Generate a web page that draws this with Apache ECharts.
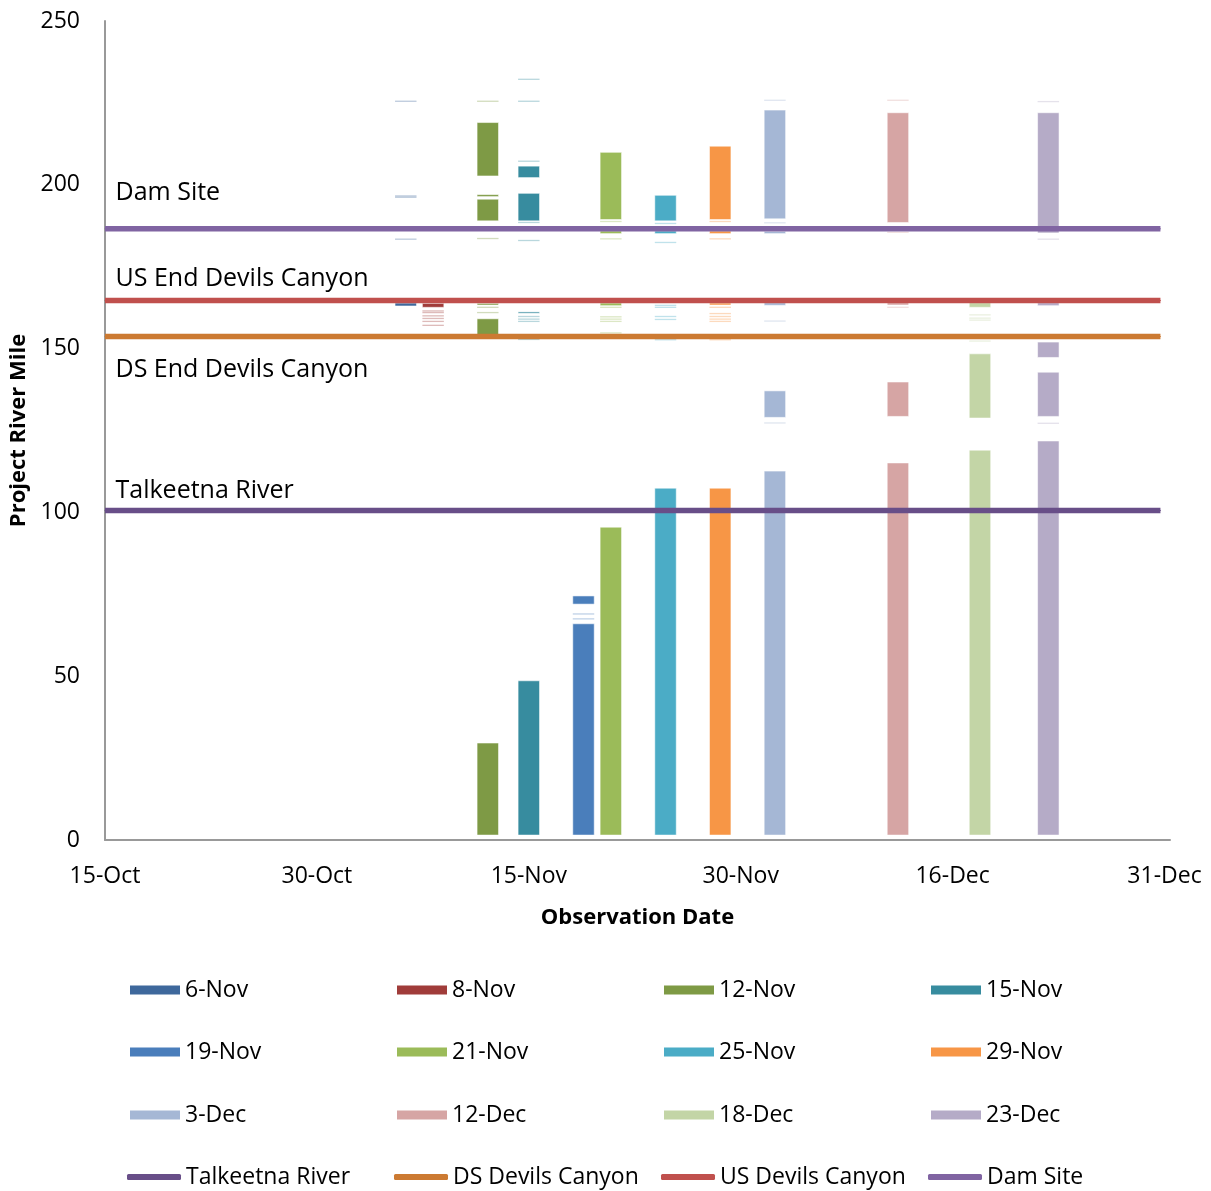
<!DOCTYPE html>
<html>
<head>
<meta charset="utf-8">
<script src="https://cdn.jsdelivr.net/npm/echarts@6/dist/echarts.min.js"></script>
<style>
  html, body { margin: 0; padding: 0; background: #fff; }
  #chart { width: 1211px; height: 1191px; }
</style>
</head>
<body>
<div id="chart"></div>
<script>
// Observation dates (one column of river-mile segments per date)
const obsDates = ['6-Nov', '8-Nov', '12-Nov', '15-Nov', '19-Nov', '21-Nov',
                  '25-Nov', '29-Nov', '3-Dec', '12-Dec', '18-Dec', '23-Dec'];

// Ice-covered reaches per observation, [lower mile, upper mile]
const iceSegments = [
  [[163.0, 163.9]],
  [[162.6, 163.8]],
  [[202.7, 219.0], [196.4, 197.0], [189.0, 195.6], [163.3, 163.8], [153.2, 159.1], [1.5, 29.6]],
  [[202.2, 205.7], [189.0, 197.4], [160.8, 161.2], [1.5, 48.6]],
  [[72.0, 74.5], [1.5, 66.0]],
  [[189.4, 209.9], [185.1, 185.9], [163.1, 163.9], [1.5, 95.5]],
  [[189.0, 196.8], [185.1, 185.9], [1.5, 107.4]],
  [[189.4, 211.8], [185.1, 185.9], [163.3, 163.9], [1.5, 107.4]],
  [[189.6, 222.8], [185.1, 185.8], [163.2, 164.0], [129.0, 137.1], [1.5, 112.6]],
  [[188.5, 222.0], [163.3, 164.0], [129.3, 139.8], [1.5, 115.1]],
  [[162.6, 164.0], [128.8, 148.4], [1.5, 119.0]],
  [[185.3, 222.0], [163.1, 164.0], [147.3, 152.0], [129.3, 142.8], [1.5, 121.8]]
];

// Short border-ice / shelf-ice observations, river mile
const iceTraces = [
  [225.5, 196.6, 196.2, 183.4],
  [161.5, 161.0, 160.0, 159.2, 158.3, 157.1],
  [225.5, 183.6, 162.6, 161.0],
  [232.2, 225.5, 207.2, 188.5, 183.0, 159.8, 159.0, 158.3, 152.8],
  [69.0, 67.5],
  [188.8, 183.5, 162.6, 159.7, 159.0, 158.3, 154.8],
  [188.2, 182.4, 163.2, 162.6, 159.8, 158.9, 152.7],
  [188.8, 183.5, 162.6, 160.7, 159.8, 159.0, 158.3, 152.7],
  [225.8, 188.4, 158.4, 127.3],
  [225.8, 185.5, 162.6],
  [160.3, 159.3, 158.7, 152.3],
  [225.4, 183.4, 127.2]
];

const obsColors = ['#3E689C', '#A03C3A', '#7E9A45', '#378C9F', '#4A7EBB', '#9BBB59',
                   '#4BACC6', '#F79646', '#A5B7D5', '#D6A5A4', '#C3D5A6', '#B5ABC7'];

// Reference river-mile landmarks
const landmarkNames  = ['Talkeetna River', 'DS Devils Canyon', 'US Devils Canyon', 'Dam Site'];
const landmarkLabels = ['Talkeetna River', 'DS End Devils Canyon', 'US End Devils Canyon', 'Dam Site'];
const landmarkMiles  = [100.6, 153.7, 164.7, 186.6];
const landmarkColors = ['#684E88', '#CC7A32', '#C0504D', '#8064A2'];
const landmarkLabelOffset = [-19, 34, -21, -35];

// Axis tick labels
const xTickLabels = ['15-Oct', '30-Oct', '15-Nov', '30-Nov', '16-Dec', '31-Dec'];
const yTicks = [0, 50, 100, 150, 200, 250];

// Day count from 15-Oct
function dayOf(label) {
  const [d, m] = label.split('-');
  const base = { Oct: -15, Nov: 16, Dec: 46 }[m];
  return base + Number(d);
}

const X_STEP = 15.5;
const X_MAX = 77.9;
const BAR_DAYS = 1.57;
const FONT = '"Open Sans", "Noto Sans", sans-serif';

const series = [];
obsDates.forEach((name, i) => {
  const x = dayOf(name);
  const data = [];
  iceSegments[i].forEach(s => data.push([x, s[0], s[1], 0]));
  iceTraces[i].forEach(v => data.push([x, v - 0.2, v + 0.2, 1]));
  series.push({
    name: name,
    type: 'custom',
    z: 2,
    itemStyle: { color: obsColors[i] },
    encode: { x: 0, y: [1, 2] },
    data: data,
    renderItem: function (params, api) {
      const cx = api.value(0), lo = api.value(1), hi = api.value(2), faint = api.value(3);
      const top = api.coord([cx, hi]);
      const bot = api.coord([cx, lo]);
      const w = api.size([BAR_DAYS, 0])[0];
      const h = Math.max(bot[1] - top[1], 1);
      return {
        type: 'rect',
        shape: { x: top[0] - w / 2, y: top[1], width: w, height: h },
        style: faint
          ? { fill: api.visual('color'), opacity: 0.35 }
          : { fill: api.visual('color'), stroke: 'rgba(255,255,255,0.55)', lineWidth: 1 }
      };
    }
  });
});

landmarkNames.forEach((name, i) => {
  series.push({
    name: name,
    type: 'line',
    z: 3,
    symbol: 'circle',
    symbolSize: 1,
    itemStyle: { color: landmarkColors[i] },
    lineStyle: { color: landmarkColors[i], width: 5.5 },
    data: [
      {
        value: [0, landmarkMiles[i]],
        label: {
          show: true,
          formatter: landmarkLabels[i],
          position: [11, landmarkLabelOffset[i]],
          align: 'left',
          verticalAlign: 'middle',
          fontFamily: FONT,
          fontSize: 25,
          color: '#000'
        }
      },
      [77.2, landmarkMiles[i]]
    ],
    silent: true,
    animation: false
  });
});

// One legend block per entry, laid out on a 4-column grid
const legendNames = obsDates.concat(landmarkNames);
const legends = legendNames.map((name, k) => {
  const col = k % 4, row = Math.floor(k / 4);
  const isLine = k >= obsDates.length;
  return {
    data: [name],
    left: (isLine ? 127 : 130) + col * 267,
    top: [990, 1052, 1115, 1177][row] - 13,
    padding: 0,
    icon: isLine ? 'roundRect' : 'rect',
    itemWidth: isLine ? 54 : 50,
    itemHeight: isLine ? 6 : 9,
    selectedMode: false,
    textStyle: { fontFamily: FONT, fontSize: 23, color: '#000', lineHeight: 26, padding: [0, 0, 0, 0] }
  };
});

const chart = echarts.init(document.getElementById('chart'));
chart.setOption({
  animation: false,
  backgroundColor: '#fff',
  grid: { left: 105, right: 41, top: 21, bottom: 351, containLabel: false, outerBoundsMode: 'none' },
  legend: legends,
  xAxis: {
    type: 'value',
    min: 0,
    max: X_MAX,
    interval: X_STEP,
    name: 'Observation Date',
    nameLocation: 'middle',
    nameGap: 67,
    nameTextStyle: { fontFamily: FONT, fontSize: 22, fontWeight: 'bold', color: '#000' },
    axisLine: { lineStyle: { color: '#999', width: 2 } },
    axisTick: { show: false },
    splitLine: { show: false },
    axisLabel: {
      margin: 25,
      fontFamily: FONT,
      fontSize: 23,
      color: '#000',
      showMaxLabel: true,
      formatter: function (v) {
        const k = Math.round(v / X_STEP);
        return Math.abs(v - k * X_STEP) < 0.01 ? (xTickLabels[k] || '') : '';
      }
    }
  },
  yAxis: {
    type: 'value',
    min: yTicks[0],
    max: yTicks[yTicks.length - 1],
    interval: yTicks[1] - yTicks[0],
    name: 'Project River Mile',
    nameLocation: 'middle',
    nameGap: 72,
    nameRotate: 90,
    nameTextStyle: { fontFamily: FONT, fontSize: 22, fontWeight: 'bold', color: '#000' },
    axisLine: { show: true, lineStyle: { color: '#999', width: 2 } },
    axisTick: { show: false },
    splitLine: { show: false },
    axisLabel: { margin: 25, fontFamily: FONT, fontSize: 23, color: '#000' }
  },
  series: series
});
</script>
</body>
</html>
